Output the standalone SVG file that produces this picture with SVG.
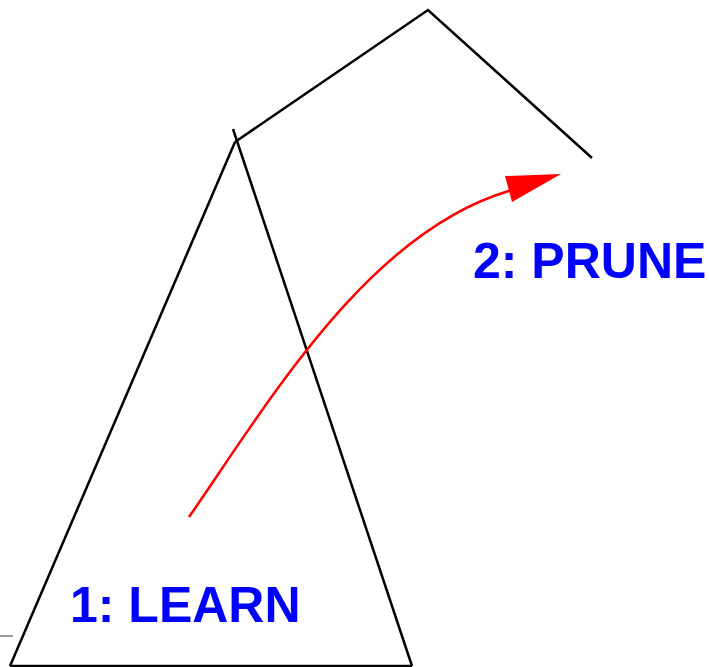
<svg xmlns="http://www.w3.org/2000/svg" width="709" height="667" viewBox="0 0 709 667">
<style>
.edge{fill:none;stroke:#000;stroke-width:2.5;stroke-linecap:butt}
.lbl{font-family:"Liberation Sans",Arial,sans-serif;font-weight:bold;font-size:50px;fill:#0000ff}
</style>
<rect width="709" height="667" fill="#fff"/>
<g id="tree">
<line class="edge" x1="10" y1="666" x2="235" y2="142"/>
<line class="edge" x1="233" y1="129" x2="412" y2="666"/>
<line class="edge" x1="10" y1="666" x2="412" y2="666"/>
</g>
<g id="pruned">
<polyline class="edge" points="235,142 428,10 592,158"/>
</g>
<g id="tick">
<line x1="0" y1="636" x2="13" y2="636" stroke="#999" stroke-width="2"/>
</g>
<g id="connectors">
<path d="M189,517 C270,400 370,230 512,190" fill="none" stroke="#ff0000" stroke-width="2.5"/>
<polygon points="561,174 505,176 512,202" fill="#ff0000"/>
</g>
<g id="labels">
<text class="lbl" x="70" y="622">1: LEARN</text>
<text class="lbl" x="473" y="278">2: PRUNE</text>
</g>
</svg>
